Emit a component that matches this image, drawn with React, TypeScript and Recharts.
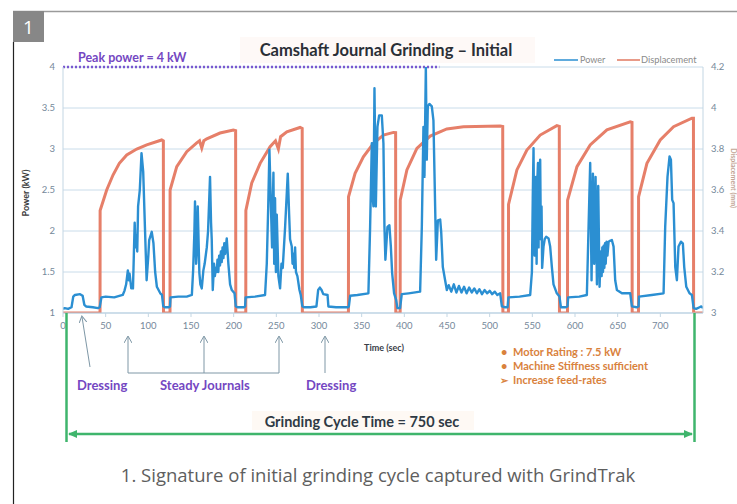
import React from 'react';
import { LineChart, Line, XAxis, YAxis, CartesianGrid, ReferenceLine } from 'recharts';

type Pt = [number, number];

// ---- tick labels ----
const timeTicks = [0, 50, 100, 150, 200, 250, 300, 350, 400, 450, 500, 550, 600, 650, 700];
const powerTicks = [1, 1.5, 2, 2.5, 3, 3.5, 4];
const dispTicks = [3, 3.2, 3.4, 3.6, 3.8, 4, 4.2];

// ---- power (kW) vs time (sec) ----
const powerDress1: Pt[] = [
  [0, 1.05], [2, 1.06], [6, 1.05], [10, 1.07], [12, 1.2], [14, 1.22], [20, 1.23], [23, 1.21],
  [25, 1.1], [27, 1.08], [35, 1.07], [41, 1.06], [43, 1.07],
];
const powerCycle1: Pt[] = [
  [45, 1.19], [50, 1.2], [60, 1.19], [70, 1.22], [72, 1.27], [74, 1.35], [76, 1.52], [77, 1.4],
  [78, 1.48], [80, 1.3], [82, 1.3], [84, 2.1], [85, 1.8], [86, 1.95], [87, 1.75], [88, 2.3], [90, 2.5],
  [92, 2.95], [94, 2.72], [96, 2.05], [98, 1.4], [100, 1.7], [101, 1.89], [104, 1.99], [106, 1.85],
  [108, 1.5], [110, 1.32], [114, 1.24], [116, 1.22], [117.5, 1.08], [120, 1.07], [124, 1.07],
];
const powerCycle2: Pt[] = [
  [125.4, 1.08], [126, 1.19], [135, 1.2], [145, 1.2], [151, 1.22], [152.5, 1.52], [154, 2.0],
  [154.7, 2.36], [156, 1.6], [156.7, 1.75], [157.9, 2.3], [159.8, 1.49], [161, 1.35], [162.6, 1.3],
  [164.5, 1.52], [166, 1.6], [168.5, 1.8], [170, 2.0], [172.3, 2.66], [173.5, 2.1], [174.3, 1.9],
  [175.5, 1.28], [177, 1.6], [178, 1.45], [179, 1.55], [180.2, 1.5], [181, 1.65], [182, 1.5],
  [183, 1.7], [184, 1.58], [185, 1.75], [186, 1.62], [187, 1.8], [188, 1.67], [189, 1.85],
  [190, 1.72], [191.9, 1.91], [193.8, 1.6], [195.8, 1.35], [197.8, 1.28], [201, 1.24],
  [202.5, 1.08], [205, 1.07], [212, 1.07],
];
const powerCycle3: Pt[] = [
  [213.4, 1.08], [214, 1.19], [225, 1.2], [236.8, 1.22], [238.8, 1.6], [240.5, 2.3], [241.9, 2.99],
  [243.4, 2.4], [245, 1.8], [246.6, 2.71], [247.5, 1.6], [248.5, 2.4], [249.5, 1.5], [250.5, 2.2],
  [252.4, 1.45], [254.4, 1.3], [256, 1.6], [257.5, 1.55], [260.3, 2.05], [263.4, 2.7], [265, 2.2],
  [266.1, 1.9], [268.1, 1.81], [269, 1.6], [270, 1.72], [271, 1.55], [272, 1.8], [273, 1.5],
  [274.7, 1.45], [277.1, 1.28], [278.6, 1.22], [280.5, 1.08],
];
const powerDress2: Pt[] = [
  [283, 1.07], [290, 1.07], [297, 1.08], [299, 1.28], [301, 1.31], [303, 1.28], [305, 1.23],
  [310, 1.22], [311, 1.08], [320, 1.07], [334, 1.07],
];
const powerCycle4: Pt[] = [
  [335, 1.08], [336.5, 1.21], [345, 1.22], [357.9, 1.24], [359.9, 2.05], [361.9, 3.07], [363, 2.4],
  [363.8, 2.3], [365, 3.74], [366.6, 2.3], [368.5, 3.27], [370.5, 3.41], [373.6, 3.41],
  [375.5, 3.07], [376.7, 2.05], [377.8, 1.65], [380.2, 2.05], [382.5, 2.07], [384.2, 1.81],
  [385.7, 1.49], [388, 1.24], [390.4, 1.16], [391.9, 1.06], [394, 1.06],
];
const powerCycle5: Pt[] = [
  [395, 1.06], [397, 1.23], [405, 1.24], [418.5, 1.26], [420.5, 2.05], [422.4, 3.27],
  [423.6, 2.66], [425.2, 4.0], [426.3, 2.87], [427.5, 3.52], [429.4, 3.55], [432.2, 3.52],
  [434.1, 3.35], [436.1, 2.3], [437.3, 1.65], [439.3, 2.13], [442, 2.14], [443.2, 1.99],
  [445.1, 1.56], [447.8, 1.4], [449.8, 1.28],
  [452, 1.34], [455, 1.26], [458, 1.35], [461, 1.25], [464, 1.33], [467, 1.25], [470, 1.32],
  [473, 1.24], [476, 1.31], [479, 1.25], [482, 1.3], [485, 1.24], [488, 1.29], [491, 1.23],
  [494, 1.28], [497, 1.24], [500, 1.27], [503, 1.23], [506, 1.26], [509, 1.22], [512.3, 1.24],
  [514.3, 1.08], [518, 1.07],
];
const powerCycle6: Pt[] = [
  [521, 1.07], [522, 1.19], [535, 1.2], [547.5, 1.22], [549.5, 1.5], [550.5, 2.4], [551.4, 3.01],
  [552, 2.2], [552.6, 1.7], [553.4, 2.5], [554.2, 2.66], [555, 1.6], [555.8, 2.6], [556.6, 2.83],
  [557.3, 1.8], [558, 2.6], [559.2, 2.87], [560, 1.9], [560.8, 2.3], [561.5, 1.55], [563.1, 1.81],
  [564.5, 1.9], [566.2, 1.93], [569, 1.91], [570.9, 1.81], [572.9, 1.56], [574.8, 1.35],
  [578.7, 1.24], [581.8, 1.2], [583.5, 1.07], [589, 1.07],
];
const powerCycle7: Pt[] = [
  [591.2, 1.08], [592, 1.19], [605, 1.2], [613.9, 1.22], [615.9, 2.05], [617.8, 2.83],
  [619.4, 1.4], [621, 2.7], [622.5, 1.6], [624.1, 2.66], [625.7, 1.35], [627.2, 2.55],
  [628.8, 1.32], [629.6, 1.6], [630.4, 1.75], [631.2, 1.45], [632, 1.8], [632.8, 1.5],
  [633.6, 1.82], [634.4, 1.55], [635.2, 1.85], [636, 1.6], [637, 1.87], [638, 1.7], [639.4, 1.87],
  [641, 1.88], [643.2, 1.89], [645.2, 1.81], [647.1, 1.4], [649.1, 1.28], [655, 1.24],
  [664.7, 1.24], [666.7, 1.08], [672, 1.07],
];
const powerCycle8: Pt[] = [
  [674.5, 1.08], [675, 1.2], [690, 1.22], [703.8, 1.24], [705.7, 2.05], [708.4, 2.66],
  [710.8, 2.91], [712.4, 2.87], [713.9, 2.38], [715.5, 2.34], [717.5, 1.56], [719.4, 1.4],
  [721.3, 1.81], [724.1, 1.87], [726.4, 1.85], [728, 1.56], [730.4, 1.32], [734.2, 1.24],
  [737, 1.22], [739, 1.06], [742, 1.05], [746, 1.07], [748, 1.08], [750, 1.06],
];

// ---- displacement (mm) vs time (sec) ----
const dispStart: Pt[] = [[0, 3.0], [43.3, 3.0]];
const dispCycle1: Pt[] = [
  [43.4, 3.0], [43.5, 3.5], [51.2, 3.6], [58.6, 3.673], [66, 3.73], [74.7, 3.771], [86.4, 3.8],
  [98.1, 3.82], [115.7, 3.844], [117.6, 3.84], [117.8, 3.0], [125.3, 3.0],
];
const dispCycle2: Pt[] = [
  [125.4, 3.0], [125.5, 3.6], [133.3, 3.714], [145, 3.787], [156.7, 3.83], [160, 3.84],
  [162.6, 3.805], [165, 3.84], [168.5, 3.85], [184, 3.878], [199.6, 3.893], [202.3, 3.89],
  [202.5, 3.0], [214.1, 3.0],
];
const dispCycle3: Pt[] = [
  [214.2, 3.0], [214.3, 3.5], [221.2, 3.634], [231, 3.73], [242.7, 3.811], [249, 3.84],
  [252.4, 3.8], [255, 3.86], [262.3, 3.884], [277.8, 3.905], [280.3, 3.9], [280.5, 3.0],
  [334.4, 3.0],
];
const dispCycle4: Pt[] = [
  [334.5, 3.0], [334.6, 3.567], [342.3, 3.681], [352, 3.762], [363.8, 3.828], [375.5, 3.868],
  [387.3, 3.881], [389.8, 3.88], [390, 3.0], [395, 3.0],
];
const dispCycle5: Pt[] = [
  [395.1, 3.0], [395.2, 3.551], [403, 3.698], [414.7, 3.803], [430.3, 3.863], [449.8, 3.898],
  [469.3, 3.909], [512.3, 3.912], [515.3, 3.91], [515.5, 3.0], [521.9, 3.0],
];
const dispCycle6: Pt[] = [
  [522, 3.0], [522.1, 3.53], [531.9, 3.698], [543.6, 3.795], [559.2, 3.868], [578.7, 3.914],
  [581.6, 3.91], [581.8, 3.0], [591.1, 3.0],
];
const dispCycle7: Pt[] = [
  [591.2, 3.0], [591.3, 3.55], [602.3, 3.714], [617.8, 3.82], [637.4, 3.893], [664.7, 3.933],
  [666.8, 3.93], [667, 3.0], [674.3, 3.0],
];
const dispCycle8: Pt[] = [
  [674.4, 3.0], [674.5, 3.567], [684.3, 3.73], [699.9, 3.844], [715.5, 3.909], [737, 3.95],
  [738.8, 3.95], [739, 3.0], [750, 3.0],
];

const powerData = [
  powerDress1, powerCycle1, powerCycle2, powerCycle3, powerDress2,
  powerCycle4, powerCycle5, powerCycle6, powerCycle7, powerCycle8,
].flat().map(([t, p]) => ({ t, p }));

const dispData = [
  dispStart, dispCycle1, dispCycle2, dispCycle3, dispCycle4,
  dispCycle5, dispCycle6, dispCycle7, dispCycle8,
].flat().map(([t, d]) => ({ t, d }));

const FONT = 'Lato, "Open Sans", sans-serif';
const PURPLE = '#7447c2';
const GREEN = '#3fb56c';
const ARROW = '#7e97a6';
const ORANGE_TXT = '#d9823d';
const TICK = { fontSize: 9.5, fill: '#75889a', fontFamily: FONT };

export default function App() {
  return (
    <div style={{ position: 'absolute', left: 0, top: 0, width: 737, height: 504, background: '#fff', overflow: 'hidden' }}>
      <div style={{ position: 'absolute', left: 0, top: 0 }}>
        <LineChart width={737} height={504} margin={{ top: 67, right: 4, bottom: 161, left: 23 }}>
          <CartesianGrid yAxisId="left" vertical={false} stroke="#c9dcea" strokeWidth={1} />
          <XAxis
            type="number"
            dataKey="t"
            domain={[0, 750]}
            ticks={timeTicks}
            allowDataOverflow
            height={30}
            tickMargin={5}
            tick={TICK}
            tickLine={{ stroke: '#c3d6e3' }}
            tickSize={4}
            axisLine={{ stroke: '#b7cfdf' }}
          />
          <YAxis
            yAxisId="left"
            domain={[1, 4]}
            ticks={powerTicks}
            width={40}
            allowDataOverflow
            tick={TICK}
            tickLine={false}
            axisLine={{ stroke: '#c3d6e3' }}
          />
          <YAxis
            yAxisId="right"
            orientation="right"
            domain={[3, 4.2]}
            ticks={dispTicks}
            width={30}
            allowDataOverflow
            tick={TICK}
            tickLine={false}
            axisLine={{ stroke: '#c3d6e3' }}
          />
          <ReferenceLine
            yAxisId="left"
            segment={[{ x: 0, y: 4 }, { x: 441, y: 4 }]}
            stroke="#7a58d0"
            strokeWidth={2.5}
            strokeDasharray="2 2"
            ifOverflow="visible"
          />
          <Line
            yAxisId="right"
            data={dispData}
            dataKey="d"
            type="linear"
            stroke="#e67f69"
            strokeWidth={3}
            dot={false}
            activeDot={false}
            isAnimationActive={false}
          />
          <Line
            yAxisId="left"
            data={powerData}
            dataKey="p"
            type="linear"
            stroke="#2b8fd2"
            strokeWidth={2.4}
            strokeLinejoin="round"
            dot={false}
            activeDot={false}
            isAnimationActive={false}
          />
        </LineChart>
      </div>
      <svg width={737} height={504} style={{ position: 'absolute', left: 0, top: 0, pointerEvents: 'none' }}>
        <defs>
          <marker id="ah" markerWidth="8" markerHeight="8" refX="6" refY="4" orient="auto" markerUnits="userSpaceOnUse">
            <path d="M0,0 L7,4 L0,8" fill="none" stroke={ARROW} strokeWidth="1" />
          </marker>
          <marker id="gh" markerWidth="10" markerHeight="10" refX="8" refY="5" orient="auto-start-reverse" markerUnits="userSpaceOnUse">
            <path d="M0,1 L9,5 L0,9 Z" fill={GREEN} />
          </marker>
        </defs>
        {/* frame */}
        <line x1={13} y1={11.5} x2={737} y2={11.5} stroke="#9a9a9a" strokeWidth={1.5} />
        <line x1={13.5} y1={42} x2={13.5} y2={504} stroke="#222" strokeWidth={1.2} />
        <rect x={13} y={11} width={31} height={31} fill="#878787" />
        <text x={23} y={34} fill="#fff" fontSize={19} fontFamily='"Open Sans", sans-serif'>1</text>

        {/* title */}
        <rect x={240} y={37} width={295} height={26} fill="#fef9f7" />
        <text x={386} y={56} textAnchor="middle" fontSize={16.5} fontWeight={700} fill="#2a2f36" fontFamily={FONT}>
          Camshaft Journal Grinding – Initial
        </text>
        <text x={78} y={61.5} fontSize={12.5} fontWeight={700} fill={PURPLE} fontFamily={FONT}>Peak power = 4 kW</text>

        {/* legend */}
        <line x1={554} y1={60} x2={578} y2={60} stroke="#2b8fd2" strokeWidth={1.5} />
        <text x={580} y={63} fontSize={9} fill="#8a8a8a" fontFamily={FONT}>Power</text>
        <line x1={617} y1={60} x2={640} y2={60} stroke="#e89a88" strokeWidth={2} />
        <text x={641} y={63} fontSize={9.3} fill="#8a8a8a" fontFamily={FONT}>Displacement</text>

        {/* axis titles */}
        <text x={29} y={193} transform="rotate(-90 29 193)" textAnchor="middle" fontSize={9} fontWeight={700} fill="#3a3a3a" fontFamily={FONT}>Power (kW)</text>
        <text x={731} y={178} transform="rotate(90 731 178)" textAnchor="middle" fontSize={7} fontWeight={700} fill="#c2a595" fontFamily={FONT}>Displacement (mm)</text>
        <text x={384} y={351} textAnchor="middle" fontSize={9} fontWeight={700} fill="#3a4048" fontFamily={FONT}>Time (sec)</text>

        {/* dressing / steady journal arrows */}
        <line x1={90} y1={367} x2={82} y2={317} stroke={ARROW} strokeWidth={1} markerEnd="url(#ah)" />
        <line x1={128} y1={373} x2={279} y2={373} stroke={ARROW} strokeWidth={1} />
        <line x1={128} y1={373} x2={128} y2={337} stroke={ARROW} strokeWidth={1} markerEnd="url(#ah)" />
        <line x1={204} y1={373} x2={204} y2={337} stroke={ARROW} strokeWidth={1} markerEnd="url(#ah)" />
        <line x1={279} y1={373} x2={279} y2={337} stroke={ARROW} strokeWidth={1} markerEnd="url(#ah)" />
        <line x1={325} y1={373} x2={325} y2={337} stroke={ARROW} strokeWidth={1} markerEnd="url(#ah)" />
        <text x={77} y={390} fontSize={13} fontWeight={700} fill={PURPLE} fontFamily={FONT}>Dressing</text>
        <text x={160} y={390} fontSize={13} fontWeight={700} fill={PURPLE} fontFamily={FONT}>Steady Journals</text>
        <text x={306} y={390} fontSize={13} fontWeight={700} fill={PURPLE} fontFamily={FONT}>Dressing</text>

        {/* notes */}
        <text x={501} y={356} fontSize={11} fontWeight={700} fill={ORANGE_TXT} fontFamily={FONT}>•</text>
        <text x={513} y={356} fontSize={11} fontWeight={700} fill={ORANGE_TXT} fontFamily={FONT}>Motor Rating : 7.5 kW</text>
        <text x={501} y={370} fontSize={11} fontWeight={700} fill={ORANGE_TXT} fontFamily={FONT}>•</text>
        <text x={513} y={370} fontSize={11} fontWeight={700} fill={ORANGE_TXT} fontFamily={FONT}>Machine Stiffness sufficient</text>
        <text x={500} y={384} fontSize={10} fontWeight={700} fill={ORANGE_TXT} fontFamily={FONT}>➢</text>
        <text x={513} y={384} fontSize={11} fontWeight={700} fill={ORANGE_TXT} fontFamily={FONT}>Increase feed-rates</text>

        {/* cycle time */}
        <line x1={66.5} y1={313} x2={66.5} y2={442} stroke={GREEN} strokeWidth={2.5} />
        <line x1={694.5} y1={313} x2={694.5} y2={442} stroke={GREEN} strokeWidth={2.5} />
        <line x1={69} y1={434} x2={692} y2={434} stroke={GREEN} strokeWidth={2.5} markerStart="url(#gh)" markerEnd="url(#gh)" />
        <rect x={252} y={411} width={222} height={19} fill="#fef9f4" />
        <text x={362} y={427} textAnchor="middle" fontSize={14.5} fontWeight={700} fill="#2f3a44" fontFamily={FONT}>
          Grinding Cycle Time = 750 sec
        </text>

        {/* caption */}
        <text x={378} y={482} textAnchor="middle" fontSize={18.5} fill="#5e5e5e" fontFamily='"Open Sans", sans-serif'>
          1. Signature of initial grinding cycle captured with GrindTrak
        </text>
      </svg>
    </div>
  );
}
